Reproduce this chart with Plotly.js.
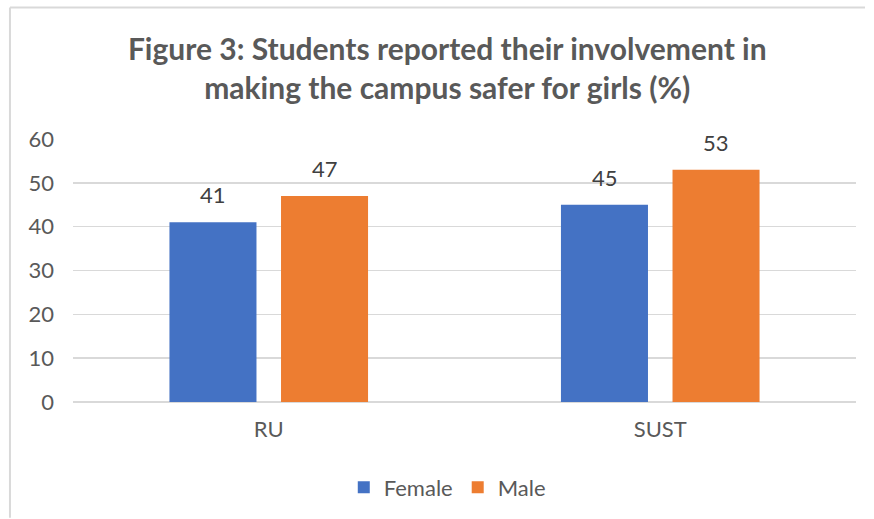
<!DOCTYPE html>
<html>
<head>
<meta charset="utf-8">
<script src="https://cdn.plot.ly/plotly-3.0.1.min.js"></script>
<style>html,body{margin:0;padding:0;background:#fff;}#chart{width:874px;height:519px;}</style>
</head>
<body>
<div id="chart"></div>
<script>
const categories = ["RU", "SUST"];
const female = [41, 45];
const male = [47, 53];
const seriesNames = ["Female", "Male"];
const colors = ["#4472C4", "#ED7D31"];
const yTicks = [0, 10, 20, 30, 40, 50, 60];

const font = "Lato, 'Open Sans', sans-serif";
const grey = "#595959";

const traces = [female, male].map((vals, i) => ({
  type: "bar",
  name: seriesNames[i],
  x: categories,
  y: vals,
  marker: {color: colors[i]},
  hoverinfo: "none"
}));

const annotations = [];
[female, male].forEach((vals, i) => {
  vals.forEach((v, j) => {
    annotations.push({
      x: categories[j], y: v, xref: "x", yref: "y",
      text: String(v), showarrow: false,
      xshift: i === 0 ? -55.75 : 55.75,
      yanchor: "bottom", yshift: 12,
      font: {family: font, size: 22, color: "#404040"}
    });
  });
});

const layout = {
  width: 874, height: 519,
  margin: {l: 73, r: 18, t: 139, b: 116},
  paper_bgcolor: "#fff", plot_bgcolor: "#fff",
  barmode: "group", bargap: 0.43, bargroupgap: 0.22,
  title: {
    text: "Figure 3: Students reported their involvement in<br>making the campus safer for girls (%)",
    font: {family: font, size: 30, color: grey, weight: "bold"},
    x: 0.478, xanchor: "center", y: 0.884, yanchor: "middle", xref: "paper"
  },
  xaxis: {
    type: "category",
    showgrid: false, showline: false, zeroline: false, ticks: "",
    tickfont: {family: font, size: 22, color: grey},
    ticklabelstandoff: 12
  },
  yaxis: {
    range: [0, 60], tickvals: yTicks,
    showgrid: true, gridcolor: "#D9D9D9", gridwidth: 1.5,
    zeroline: true, zerolinecolor: "#D9D9D9", zerolinewidth: 2,
    showline: false, ticks: "",
    tickfont: {family: font, size: 22, color: grey},
    ticklabelstandoff: 18
  },
  legend: {
    orientation: "h", x: 0.478, xanchor: "center", y: -0.32, yanchor: "middle",
    font: {family: font, size: 22, color: grey},
    itemwidth: 30
  },
  annotations: annotations,
  shapes: [
    {type: "line", xref: "paper", yref: "paper", x0: -0.0805, x1: 1.0115, y0: 1.5, y1: 1.5, line: {color: "#D9D9D9", width: 2}},
    {type: "line", xref: "paper", yref: "paper", x0: -0.0805, x1: -0.0805, y0: 1.5, y1: -0.44, line: {color: "#D9D9D9", width: 2}}
  ],
  showlegend: true
};

Plotly.newPlot("chart", traces, layout, {displayModeBar: false, staticPlot: true});
</script>
</body>
</html>
